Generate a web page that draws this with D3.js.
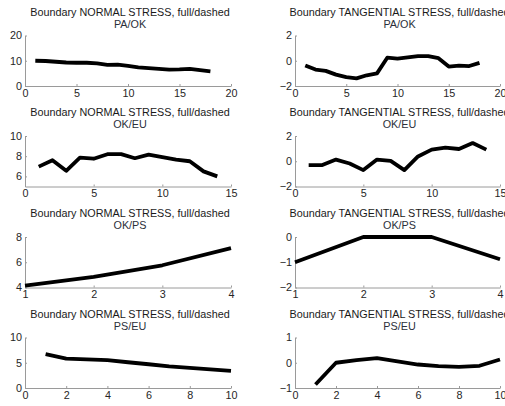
<!DOCTYPE html>
<html>
<head>
<meta charset="utf-8">
<script src="https://cdn.jsdelivr.net/npm/d3@7"></script>
<style>
  body { margin: 0; background: #fff; }
  svg { display: block; font-family: "Liberation Sans", Arial, sans-serif; }
  .axis path, .axis line { stroke: #9a9a9a; }
  .axis text { fill: #262626; font-size: 10.8px; }
</style>
</head>
<body>
<div id="chart"></div>
<script>
  // boundary names (one row each)
  var boundaries = ["PA/OK", "OK/EU", "OK/PS", "PS/EU"];

  // normal stress along each boundary (node 1..n)
  var normalPA_OK = [10, 9.9, 9.6, 9.3, 9.2, 9.2, 9.0, 8.4, 8.5, 8.0, 7.4, 7.1, 6.8, 6.5, 6.6, 6.8, 6.3, 5.8];
  var normalOK_EU = [6.97, 7.6, 6.55, 7.85, 7.75, 8.2, 8.2, 7.8, 8.15, 7.9, 7.65, 7.5, 6.5, 6.0];
  var normalOK_PS = [4.15, 4.85, 5.76, 7.12];
  var normalPS_EU = [6.7, 5.8, 5.65, 5.5, 5.1, 4.7, 4.3, 4.0, 3.7, 3.4];

  // tangential stress along each boundary
  var tangPA_OK = [-0.37, -0.7, -0.8, -1.1, -1.3, -1.4, -1.15, -1.0, 0.24, 0.17, 0.27, 0.37, 0.37, 0.2, -0.46, -0.38, -0.42, -0.17];
  var tangOK_EU = [-0.3, -0.3, 0.13, -0.18, -0.7, 0.13, 0.03, -0.7, 0.38, 0.92, 1.08, 0.97, 1.44, 0.92];
  var tangOK_PS = [-1.0, 0, 0, -0.88];
  var tangPS_EU = [-0.86, 0.0, 0.1, 0.18, 0.05, -0.07, -0.13, -0.16, -0.12, 0.13];

  // axis domains and tick labels
  var xTicks20 = [0, 5, 10, 15, 20], xTicks15 = [0, 5, 10, 15], xTicks4 = [1, 2, 3, 4], xTicks10 = [0, 2, 4, 6, 8, 10];

  var panels = [
    {row: 0, col: 0, kind: "NORMAL", data: normalPA_OK, xd: [0, 20], xt: xTicks20, yd: [0, 20], yt: [0, 10, 20]},
    {row: 0, col: 1, kind: "TANGENTIAL", data: tangPA_OK, xd: [0, 20], xt: xTicks20, yd: [-2, 2], yt: [-2, 0, 2]},
    {row: 1, col: 0, kind: "NORMAL", data: normalOK_EU, xd: [0, 15], xt: xTicks15, yd: [5, 10], yt: [6, 8, 10]},
    {row: 1, col: 1, kind: "TANGENTIAL", data: tangOK_EU, xd: [0, 15], xt: xTicks15, yd: [-2, 2], yt: [-2, 0, 2]},
    {row: 2, col: 0, kind: "NORMAL", data: normalOK_PS, xd: [1, 4], xt: xTicks4, yd: [4, 8], yt: [4, 6, 8]},
    {row: 2, col: 1, kind: "TANGENTIAL", data: tangOK_PS, xd: [1, 4], xt: xTicks4, yd: [-2, 0], yt: [-2, -1, 0]},
    {row: 3, col: 0, kind: "NORMAL", data: normalPS_EU, xd: [0, 10], xt: xTicks10, yd: [0, 10], yt: [0, 5, 10]},
    {row: 3, col: 1, kind: "TANGENTIAL", data: tangPS_EU, xd: [0, 10], xt: xTicks10, yd: [-1, 1], yt: [-1, 0, 1]}
  ];

  var W = 505, H = 406;
  var colLeft = [25, 295], plotW = [206, 205];
  var rowTop = [35.5, 136, 237, 337.5], plotH = 50.5;

  var svg = d3.select("#chart").append("svg")
    .attr("width", W)
    .attr("height", H);

  var line = d3.line();

  panels.forEach(function(p) {
    var x0 = colLeft[p.col], y0 = rowTop[p.row];
    var x = d3.scaleLinear().domain(p.xd).range([0, plotW[p.col]]);
    var y = d3.scaleLinear().domain(p.yd).range([plotH, 0]);

    var g = svg.append("g")
      .attr("transform", "translate(" + x0 + "," + y0 + ")");

    // titles
    g.append("text")
      .attr("x", plotW[p.col] / 2 + 2)
      .attr("y", -20)
      .attr("text-anchor", "middle")
      .style("font-size", "10.8px")
      .style("fill", "#1a1a1a")
      .text("Boundary " + p.kind + " STRESS, full/dashed");
    g.append("text")
      .attr("x", plotW[p.col] / 2 + 2)
      .attr("y", -8)
      .attr("text-anchor", "middle")
      .style("font-size", "10.8px")
      .style("fill", "#2b2f3a")
      .text(boundaries[p.row]);

    g.append("g")
      .attr("class", "axis")
      .attr("transform", "translate(0," + plotH + ")")
      .call(d3.axisBottom(x).tickValues(p.xt).tickFormat(d3.format("d"))
        .tickSizeInner(-2).tickSizeOuter(0).tickPadding(3));

    g.append("g")
      .attr("class", "axis")
      .call(d3.axisLeft(y).tickValues(p.yt).tickFormat(d3.format("d"))
        .tickSizeInner(-2).tickSizeOuter(0).tickPadding(3));

    g.append("path")
      .attr("d", line(p.data.map(function(v, i) { return [x(i + 1), y(v)]; })))
      .style("fill", "none")
      .style("stroke", "#000")
      .style("stroke-width", 3.8)
      .style("stroke-linejoin", "round");
  });
</script>
</body>
</html>
